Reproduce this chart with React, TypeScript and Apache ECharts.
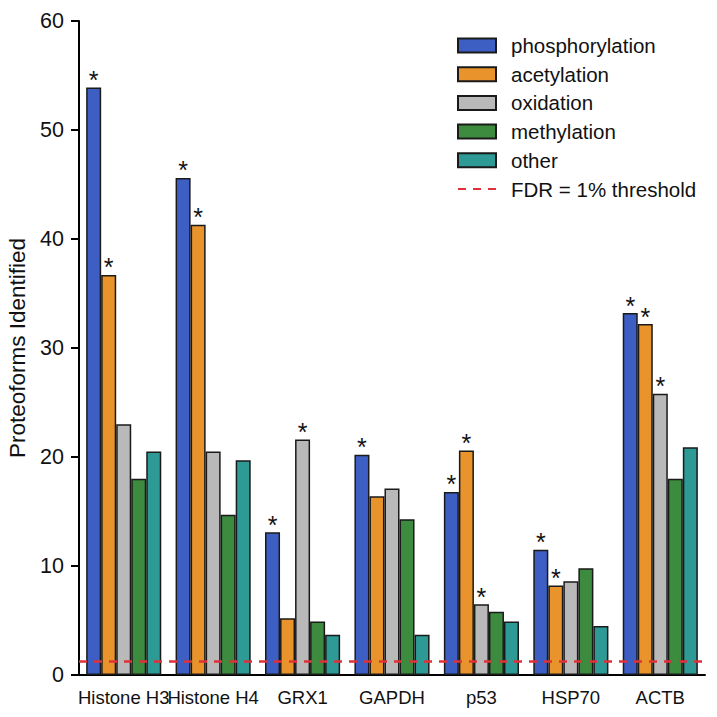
import React, { useEffect, useRef } from "react";
import * as echarts from "echarts";

// Proteoform identifications per protein, split by modification type
const categories = ["Histone H3", "Histone H4", "GRX1", "GAPDH", "p53", "HSP70", "ACTB"];

const phosphorylation = [53.9, 45.6, 13.1, 20.2, 16.8, 11.5, 33.2];
const acetylation = [36.7, 41.3, 5.2, 16.4, 20.6, 8.2, 32.2];
const oxidation = [23.0, 20.5, 21.6, 17.1, 6.5, 8.6, 25.8];
const methylation = [18.0, 14.7, 4.9, 14.3, 5.8, 9.8, 18.0];
const other = [20.5, 19.7, 3.7, 3.7, 4.9, 4.5, 20.9];

// significance markers (asterisks) for each series, per category
const sigPhosphorylation = [true, true, true, true, true, true, true];
const sigAcetylation = [true, true, false, false, true, true, true];
const sigOxidation = [false, false, true, false, true, false, true];
const sigMethylation = [false, false, false, false, false, false, false];
const sigOther = [false, false, false, false, false, false, false];

const fdrThreshold = 1.3;
const fdrName = "FDR = 1% threshold";

const yTicks = { min: 0, max: 60, interval: 10 };

const seriesDefs = [
  { name: "phosphorylation", data: phosphorylation, sig: sigPhosphorylation, color: "#3d5fc4" },
  { name: "acetylation", data: acetylation, sig: sigAcetylation, color: "#e8932c" },
  { name: "oxidation", data: oxidation, sig: sigOxidation, color: "#b9b9b9" },
  { name: "methylation", data: methylation, sig: sigMethylation, color: "#3c8b3f" },
  { name: "other", data: other, sig: sigOther, color: "#2d9a95" },
];

const FONT = "Liberation Sans, Arial, Helvetica, sans-serif";
const RED = "#e0303a";

export default function App() {
  const ref = useRef<HTMLDivElement>(null);

  useEffect(() => {
    if (!ref.current) return;
    const chart = echarts.init(ref.current, null, { renderer: "svg" });

    const barSeries = seriesDefs.map((s) => ({
      name: s.name,
      type: "bar",
      barGap: "0%",
      barCategoryGap: "16%",
      itemStyle: { color: s.color, borderColor: "#1a1a1a", borderWidth: 1.5 },
      data: s.data.map((v, i) => ({
        value: v,
        label: {
          show: s.sig[i],
          position: "top",
          distance: -5,
          formatter: "*",
          fontSize: 25,
          color: "#111",
          fontFamily: FONT,
        },
      })),
    }));

    chart.setOption({
      animation: false,
      backgroundColor: "#ffffff",
      textStyle: { fontFamily: FONT },
      grid: {
        left: 79,
        right: 12,
        top: 21,
        bottom: 42,
        containLabel: false,
        outerBoundsMode: "none",
      },
      legend: {
        orient: "vertical",
        left: 457,
        top: 35,
        padding: 0,
        itemWidth: 38,
        itemHeight: 14,
        itemGap: 7.7,
        textStyle: {
          fontSize: 20.5,
          lineHeight: 21,
          color: "#111",
          fontFamily: FONT,
          padding: [0, 0, 0, 10],
        },
        data: [
          ...seriesDefs.map((s) => ({ name: s.name, icon: "rect" })),
          { name: fdrName, itemStyle: { opacity: 0 } },
        ],
      },
      xAxis: {
        type: "category",
        data: categories,
        axisLine: { lineStyle: { color: "#000", width: 2 } },
        axisTick: { alignWithLabel: true, length: 6, lineStyle: { color: "#000", width: 2 } },
        axisLabel: { fontSize: 18.5, color: "#111", margin: 13, interval: 0, fontFamily: FONT },
      },
      yAxis: {
        type: "value",
        min: yTicks.min,
        max: yTicks.max,
        interval: yTicks.interval,
        name: "Proteoforms Identified",
        nameLocation: "middle",
        nameRotate: 90,
        nameGap: 50,
        nameTextStyle: { fontSize: 22.5, color: "#111", fontFamily: FONT },
        axisLine: { show: true, lineStyle: { color: "#000", width: 2 } },
        axisTick: { show: true, length: 8, lineStyle: { color: "#000", width: 2 } },
        axisLabel: { fontSize: 21.5, color: "#111", margin: 15, fontFamily: FONT },
        splitLine: { show: false },
      },
      series: [
        ...barSeries,
        {
          name: fdrName,
          type: "line",
          data: [],
          symbol: "none",
          color: RED,
          lineStyle: { color: RED, type: [8, 7], width: 2.5 },
          markLine: {
            silent: true,
            symbol: "none",
            label: { show: false },
            lineStyle: { color: RED, type: [8, 7], width: 2.5 },
            data: [{ yAxis: fdrThreshold }],
          },
        },
      ],
    });

    return () => chart.dispose();
  }, []);

  return <div ref={ref} style={{ width: 717, height: 717, position: "absolute", left: 0, top: 0 }} />;
}
